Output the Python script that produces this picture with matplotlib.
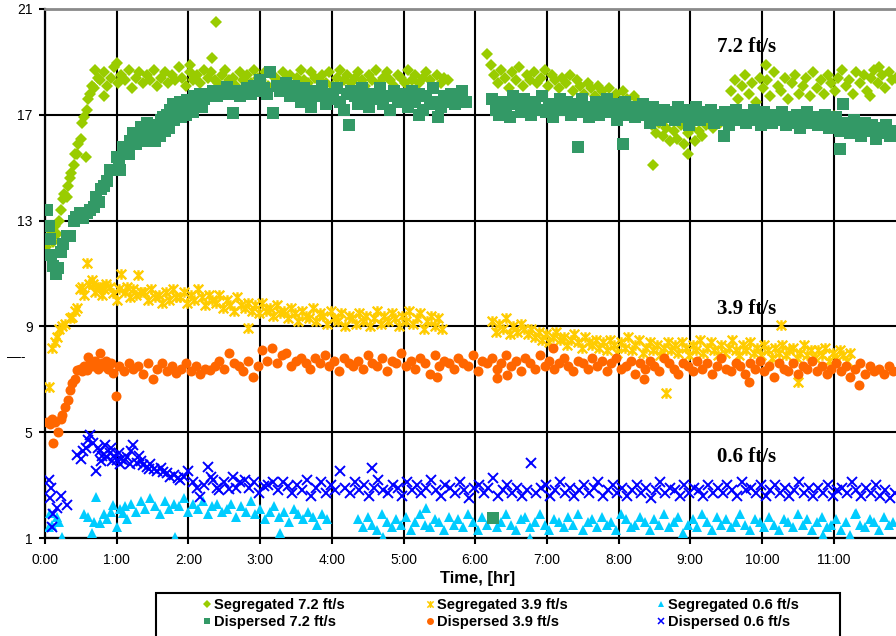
import numpy as np
import matplotlib
matplotlib.use("Agg")
import matplotlib.pyplot as plt
from matplotlib.lines import Line2D
from matplotlib.path import Path
from matplotlib.patches import Rectangle

plt.rcParams['font.family'] = ['Liberation Sans', 'DejaVu Sans']

# ---------------------------------------------------------------------------
# Measured concentration vs elapsed time (minutes) for each flow condition
# ---------------------------------------------------------------------------
seg72_t = [1, 3, 5, 7, 8, 10, 12, 13, 15, 16, 18, 19, 21, 22, 24, 25, 27, 28, 30, 31,
           33, 34, 35, 36, 38, 39, 41, 42, 44,
           46, 49, 52, 55, 58, 61, 64, 67, 70, 73,
           76, 79, 82, 85, 88, 91, 94, 97, 100, 103,
           106, 109, 112, 115, 118, 121, 124, 127, 130, 133,
           136, 139, 142, 145, 148, 151, 154, 157, 160, 163,
           166, 169, 172, 175, 178, 181, 184, 187, 190, 193,
           196, 199, 202, 205, 208, 211, 214, 217, 220, 223,
           226, 229, 232, 235, 238, 241, 244, 247, 250, 253,
           256, 259, 262, 265, 268, 271, 274, 277, 280, 283,
           286, 289, 292, 295, 298, 301, 304, 307, 310, 313,
           316, 319, 322, 325, 328, 331, 334, 337,
           49, 60, 121, 140, 143,
           370, 373,
           376, 379, 382, 385, 388, 391, 394, 397, 400, 403,
           406, 409, 412, 415, 418, 421, 424, 427, 430, 433,
           436, 439, 442, 445, 448, 451, 454, 457, 460, 463,
           466, 469, 472, 475, 478, 481, 484, 487, 490, 493,
           496, 499, 502, 505, 508, 511, 514, 517, 520, 523,
           526, 529, 532, 535, 538, 541, 544, 547, 550, 553,
           556, 559, 562, 565, 568, 571,
           574, 577, 580, 583, 586, 589, 592, 595, 598, 601,
           604, 607, 610, 613, 616, 619, 622, 625, 628, 631,
           634, 637, 640, 643, 646, 649, 652, 655, 658, 661,
           664, 667, 670, 673, 676, 679, 682, 685, 688, 691,
           694, 697, 700, 703, 706, 709, 712,
           509, 538, 603, 660, 690, 698]
seg72_v = [12.0, 12.3, 12.6, 12.2, 12.8, 12.5, 13.0, 13.4, 13.8, 14.0, 13.9, 14.3, 14.6, 14.8, 15.1,
           15.5, 15.5, 15.9, 16.1, 16.7, 16.9, 15.4, 17.2, 17.6, 17.8, 18.1, 18.0, 18.7, 18.4,
           18.3, 18.6, 18.1, 18.4, 18.8, 18.2, 18.5, 18.3, 18.7, 18.0,
           18.4, 18.6, 18.2, 18.5, 18.3, 18.7, 18.1, 18.4, 18.6, 18.2,
           18.5, 18.3, 18.8, 18.4, 18.1, 18.6, 18.3, 18.5, 18.2, 18.7,
           18.4, 18.6, 18.3, 18.2, 18.5, 18.7, 18.3, 18.4, 18.1, 18.6,
           18.3, 18.5, 18.2, 18.7, 18.4, 18.3, 18.6, 18.1, 18.5, 18.4,
           18.2, 18.6, 18.3, 18.5, 18.1, 18.4, 18.7, 18.3, 18.2, 18.6,
           18.4, 18.3, 18.5, 18.2, 18.6, 18.1, 18.4, 18.7, 18.3, 18.5,
           18.2, 18.4, 18.6, 18.3, 18.1, 18.5, 18.3, 18.7, 18.2, 18.4,
           18.6, 18.3, 18.1, 18.5, 18.4, 18.2, 18.7, 18.3, 18.5, 18.2,
           18.4, 18.6, 18.3, 18.1, 18.5, 18.2, 18.4, 18.3,
           17.7, 18.95, 18.9, 19.15, 20.5,
           19.3, 18.9,
           18.5, 18.2, 18.7, 18.4, 18.0, 18.6, 18.3, 18.8, 18.1, 18.5,
           18.3, 18.6, 18.2, 18.4, 18.7, 18.1, 18.5, 18.3, 18.0, 18.4,
           18.2, 18.5, 17.9, 18.3, 18.1, 17.8, 18.2, 18.0, 17.7, 18.1,
           17.9, 17.6, 18.0, 17.5, 17.8, 17.4, 17.9, 17.6, 17.3, 17.7,
           17.5, 17.2, 17.4, 16.9, 16.6, 16.3, 16.7, 16.2, 16.5, 16.0,
           16.4, 16.1, 16.6, 15.9, 16.3, 16.5, 16.0, 16.4, 16.2, 16.6,
           16.8, 16.5, 16.9, 16.7, 17.0, 16.8,
           17.9, 18.3, 17.6, 18.1, 18.5, 17.8, 18.2, 17.5, 18.4, 18.0,
           18.3, 17.7, 18.6, 18.1, 17.9, 18.4, 17.6, 18.2, 18.5, 17.8,
           18.1, 18.4, 17.7, 18.6, 18.0, 18.3, 17.8, 18.5, 18.2, 17.9,
           18.4, 18.7, 18.1, 18.3, 17.8, 18.6, 18.2, 18.5, 17.9, 18.4,
           18.7, 18.2, 18.5, 18.0, 18.6, 18.3, 18.4,
           15.1, 15.5, 18.9, 16.95, 17.7, 18.8]

disp72_t = [2, 3, 4, 5, 7, 9, 11, 13, 15, 18, 21, 24, 26, 29, 32, 35, 38, 41, 43, 45,
            47, 49, 52, 54, 57, 60, 62, 65, 68, 71, 74, 77, 80, 83, 85, 88, 91, 94, 97, 99,
            102, 105, 107, 110, 113, 116, 119, 122, 125, 128, 130, 133, 136, 139, 141, 144,
            147, 150, 152, 155, 157, 160, 163, 166, 169, 172, 175, 178, 180, 183, 186, 188,
            191, 194, 197, 199, 202, 205, 208,
            63, 70, 76, 82, 86, 92, 96, 100, 104, 108, 114, 118, 124, 131,
            211, 214, 217, 220, 223, 226, 229, 232, 235, 238,
            241, 244, 247, 250, 253, 256, 259, 262, 265, 268,
            271, 274, 277, 280, 283, 286, 289, 292, 295, 298,
            301, 304, 307, 310, 313, 316, 319, 322, 325, 328,
            331, 334, 337, 340, 343, 346, 349, 352,
            254, 329, 313,
            374, 377, 380, 383, 386, 389, 392, 395, 398, 401,
            404, 407, 410, 413, 416, 419, 422, 425, 428, 431,
            434, 437, 440, 443, 446, 449, 452, 455, 458, 461,
            464, 467, 470, 473, 476, 479, 482, 485, 488, 491,
            494, 497, 500, 503, 506, 509, 512, 515, 518, 521,
            524, 527, 530, 533, 536, 539, 542, 545, 548, 551,
            554, 557, 560, 563, 566, 569, 572, 575, 578, 581,
            584, 587, 590, 593, 596, 599, 602, 605, 608, 611,
            614, 617, 620, 623, 626, 629, 632, 635, 638, 641,
            644, 647, 650, 653, 656, 659, 662, 665, 668, 671,
            674, 677, 680, 683, 686, 689, 692, 695, 698, 701,
            704, 707, 710,
            375, 446, 484, 568, 665, 668]
disp72_v = [13.4, 12.8, 12.3, 11.7, 11.3, 11.0, 11.2, 11.8, 12.1, 12.4,
            12.4, 13.0, 13.15, 13.3, 13.1, 13.3, 13.4, 13.5, 13.9, 13.7,
            14.2, 14.3, 14.5, 14.9, 14.9, 15.4, 15.2, 15.8, 15.6, 16.0,
            16.3, 16.2, 16.55, 16.4, 16.7, 16.6, 16.5, 16.4, 16.8, 16.9,
            17.0, 17.2, 17.4, 17.2, 17.5, 17.3, 17.55, 17.4, 17.7, 17.5,
            17.8, 17.6, 17.8, 17.7, 17.9, 17.7, 17.9, 17.8, 18.05, 17.8,
            17.05, 17.9, 17.7, 17.9, 18.0, 17.8, 18.1, 17.9, 18.3, 18.0,
            17.8, 18.6, 17.05, 18.1, 17.9, 17.9, 18.2, 17.7, 18.1,
            14.9, 15.5, 15.9, 16.0, 16.1, 16.0, 16.2, 16.4, 16.5, 16.8, 16.9, 17.0, 17.1, 17.3,
            17.8, 17.5, 18.0, 17.6, 17.3, 17.9, 17.7, 18.1, 17.4, 17.8,
            17.6, 18.0, 17.5, 17.2, 17.8, 17.9, 17.7, 17.4, 18.0, 17.6,
            17.3, 17.8, 17.6, 18.0, 17.4, 17.7, 17.2, 17.9, 17.5, 17.8,
            17.6, 17.3, 17.9, 17.5, 17.8, 17.2, 17.7, 17.4, 18.0, 17.5,
            17.3, 17.7, 17.5, 17.8, 17.4, 17.6, 17.9, 17.5,
            16.6, 16.9, 17.0,
            17.6, 17.2, 17.0, 17.5, 17.3, 16.9, 17.7, 17.4, 17.1, 17.6,
            17.3, 17.0, 17.5, 17.2, 17.7, 17.1, 17.4, 16.9, 17.3, 17.6,
            17.2, 17.5, 17.0, 17.4, 17.1, 17.6, 17.3, 16.9, 17.2, 17.5,
            17.0, 17.3, 17.6, 17.1, 17.4, 16.8, 17.2, 17.5, 17.0, 17.3,
            16.9, 17.2, 17.4, 17.0, 16.7, 17.3, 17.1, 16.8, 17.2, 16.9,
            17.1, 16.8, 17.3, 16.9, 17.2, 16.6, 17.0, 17.3, 16.8, 17.1,
            16.9, 17.2, 16.7, 17.0, 16.8, 17.1, 16.6, 16.9, 17.2, 16.8,
            17.0, 16.7, 16.9, 17.2, 16.8, 16.6, 17.1, 16.9, 16.7, 17.0,
            16.8, 17.1, 16.6, 16.9, 16.7, 17.0, 16.5, 16.8, 17.1, 16.7,
            16.9, 16.6, 16.8, 17.0, 16.5, 16.7, 16.9, 16.4, 16.7, 16.6,
            16.3, 16.8, 16.5, 16.2, 16.7, 16.4, 16.6, 16.1, 16.5, 16.3,
            16.6, 16.2, 16.4,
            1.75, 15.8, 15.9, 16.2, 15.7, 17.4]

seg39_t = [3, 6, 8, 10, 12, 14, 17, 21, 23, 25, 27, 29, 31, 33, 35, 37, 39, 40, 42, 44,
           46, 48, 49, 51, 54, 57, 60, 62, 64, 67, 69, 71, 74, 76, 78, 80,
           83, 86, 89, 92, 95, 98, 101, 104, 107, 110,
           113, 116, 119, 122, 125, 128, 131, 134, 137, 140,
           143, 146, 149, 152, 155, 158, 161, 164, 167, 170,
           173, 176, 179, 182, 185, 188, 191, 194, 197, 200,
           203, 206, 209, 212, 215, 218, 221, 224, 227, 230,
           233, 236, 239, 242, 245, 248, 251, 254, 257, 260,
           263, 266, 269, 272, 275, 278, 281, 284, 287, 290,
           293, 296, 299, 302, 305, 308, 311, 314, 317, 320,
           323, 326, 329, 332,
           170,
           374, 377, 380, 383, 386, 389, 392, 395, 398, 401,
           404, 407, 410, 413, 416, 419, 422, 425, 428, 431,
           434, 437, 440, 443, 446, 449, 452, 455, 458, 461,
           464, 467, 470, 473, 476, 479, 482, 485, 488, 491,
           494, 497, 500, 503, 506, 509, 512, 515, 518, 521,
           524, 527, 530, 533, 536, 539, 542, 545, 548, 551,
           554, 557, 560, 563, 566, 569, 572, 575, 578, 581,
           584, 587, 590, 593, 596, 599, 602, 605, 608, 611,
           614, 617, 620, 623, 626, 629, 632, 635, 638, 641,
           644, 647, 650, 653, 656, 659, 662, 665, 668, 671,
           674,
           520, 616, 630]
seg39_v = [6.7, 8.2, 8.4, 8.6, 8.9, 9.0, 9.1, 9.3, 9.35, 9.6,
           9.7, 10.4, 10.5, 10.2, 11.4, 10.6, 10.75, 10.6, 10.3, 10.5,
           10.5, 10.2, 10.4, 10.6, 10.5, 10.25, 10.0, 10.4, 11.0, 10.3,
           10.5, 10.1, 10.4, 10.2, 10.95, 10.3,
           10.3, 10.0, 10.4, 10.1, 10.2, 9.9, 10.3, 10.0, 10.4, 10.1,
           10.1, 10.3, 9.9, 10.2, 10.0, 10.4, 10.1, 9.8, 10.2, 10.0,
           9.9, 10.2, 9.7, 10.0, 9.8, 9.6, 10.1, 9.8, 9.7, 9.9,
           9.6, 9.8, 9.5, 9.9, 9.6, 9.7, 9.4, 9.8, 9.5, 9.6,
           9.3, 9.7, 9.5, 9.2, 9.6, 9.4, 9.3, 9.7, 9.2, 9.5,
           9.4, 9.1, 9.6, 9.3, 9.2, 9.5, 9.0, 9.4, 9.3, 9.1,
           9.5, 9.2, 9.4, 9.0, 9.3, 9.6, 9.1, 9.4, 9.2, 9.5,
           9.3, 9.0, 9.4, 9.2, 9.6, 9.1, 9.3, 9.5, 8.9, 9.2,
           9.4, 9.0, 9.3, 8.9,
           8.95,
           9.2, 8.8, 9.1, 8.9, 9.3, 8.7, 9.0, 8.8, 9.1, 8.9,
           8.7, 8.9, 8.6, 8.8, 8.5, 8.7, 8.4, 8.6, 8.8, 8.5,
           8.6, 8.3, 8.5, 8.7, 8.4, 8.2, 8.6, 8.4, 8.3, 8.5,
           8.2, 8.4, 8.1, 8.5, 8.3, 8.0, 8.4, 8.2, 8.6, 8.1,
           8.3, 8.5, 8.0, 8.2, 8.4, 8.1, 8.3, 7.9, 8.2, 8.4,
           8.1, 8.3, 8.0, 8.4, 8.2, 7.9, 8.3, 8.1, 8.5, 8.0,
           8.2, 8.4, 8.1, 7.9, 8.3, 8.0, 8.2, 8.5, 8.1, 7.9,
           8.3, 8.1, 8.4, 8.0, 8.2, 7.9, 8.3, 8.1, 7.8, 8.2,
           8.0, 8.3, 7.9, 8.1, 8.2, 7.8, 8.0, 8.3, 7.9, 8.1,
           7.8, 8.1, 7.9, 8.2, 7.7, 8.0, 7.8, 8.1, 7.9, 7.7,
           8.0,
           6.5, 9.05, 6.9]

disp39_t = [2, 4, 6, 7, 8, 11, 13, 14, 17, 19, 21, 23, 25, 27, 29, 31, 33, 35, 36, 38,
            40, 42, 44, 46, 48, 49, 51, 53, 55, 57, 59,
            62, 66, 70, 74, 78, 82, 86, 90, 94, 98,
            102, 106, 110, 114, 118, 122, 126, 130, 134, 138,
            142, 146, 150, 154, 158, 162, 166, 170, 174, 178,
            182, 186, 190, 194, 198, 202, 206, 210, 214, 218,
            222, 226, 230, 234, 238, 242, 246, 250, 254, 258,
            262, 266, 270, 274, 278, 282, 286, 290, 294, 298,
            302, 306, 310, 314, 318, 322, 326, 330, 334, 338,
            342, 346, 350, 354, 358, 362, 366, 370, 374, 378,
            382, 386, 390, 394, 398, 402, 406, 410, 414, 418,
            422, 426, 430, 434, 438, 442, 446, 450, 454, 458,
            462, 466, 470, 474, 478, 482, 486, 490, 494, 498,
            502, 506, 510, 514, 518, 522, 526, 530, 534, 538,
            542, 546, 550, 554, 558, 562, 566, 570, 574, 578,
            582, 586, 590, 594, 598, 602, 606, 610, 614, 618,
            622, 626, 630, 634, 638, 642, 646, 650, 654, 658,
            662, 666, 670, 674, 678, 682, 686, 690, 694, 698,
            702, 706, 710,
            425, 328, 378, 387, 589, 681, 501]
disp39_v = [5.4, 5.3, 5.5, 4.6, 5.4, 5.0, 5.5, 5.65, 5.95, 6.2,
            6.6, 6.85, 7.0, 7.35, 7.4, 7.3, 7.5, 7.35, 7.85, 7.6,
            7.5, 7.7, 7.4, 8.0, 7.6, 7.5, 7.7, 7.4, 7.6, 7.25, 6.35,
            7.5, 7.3, 7.6, 7.4, 7.5, 7.2, 7.6, 7.0, 7.4, 7.6,
            7.3, 7.5, 7.25, 7.4, 7.6, 7.3, 7.5, 7.2, 7.4, 7.35,
            7.5, 7.7, 7.4, 8.0, 7.6, 7.5, 7.3, 7.7, 7.1, 7.5,
            8.1, 7.7, 8.2, 7.6, 7.9, 8.0, 7.5, 7.7, 7.8, 7.6,
            7.4, 7.8, 7.6, 7.9, 7.5, 7.7, 7.3, 7.8, 7.6, 7.5,
            7.7, 7.4, 7.9, 7.6, 7.5, 7.8, 7.3, 7.7, 7.6, 8.0,
            7.5, 7.7, 7.4, 7.8, 7.6, 7.2, 7.9, 7.5, 7.7, 7.6,
            7.4, 7.8, 7.6, 7.5, 7.9, 7.3, 7.7, 7.6, 7.8, 7.4,
            7.6, 7.9, 7.5, 7.7, 7.3, 7.8, 7.6, 7.4, 7.9, 7.5,
            7.7, 7.4, 7.6, 7.8, 7.5, 7.3, 7.7, 7.6, 7.4, 7.8,
            7.5, 7.7, 7.3, 7.6, 7.8, 7.4, 7.5, 7.7, 7.2, 7.6,
            7.4, 7.7, 7.5, 7.3, 7.8, 7.6, 7.4, 7.2, 7.6, 7.5,
            7.3, 7.7, 7.4, 7.6, 7.2, 7.5, 7.8, 7.4, 7.3, 7.6,
            7.5, 7.2, 7.6, 7.4, 7.7, 7.3, 7.5, 7.1, 7.6, 7.4,
            7.3, 7.6, 7.2, 7.5, 7.4, 7.7, 7.3, 7.5, 7.2, 7.4,
            7.6, 7.3, 7.5, 7.1, 7.4, 7.6, 7.2, 7.5, 7.3, 7.4,
            7.2, 7.5, 7.3,
            8.2, 7.1, 7.05, 7.15, 6.9, 6.8, 7.0]

seg06_t = [3, 4, 6, 10, 12, 14,
           33, 36, 39, 41, 43, 46, 49, 52, 55, 57, 60, 63, 65, 67, 69,
           72, 76, 80, 84, 88, 92, 96, 100, 104, 108,
           112, 116, 120, 124, 128, 132, 136, 140, 144, 148,
           152, 156, 160, 164, 168, 172, 176, 180, 184, 188,
           192, 196, 200, 204, 208, 212, 216, 220, 224, 228,
           232, 236,
           109, 197,
           262, 266, 270, 274, 278, 282, 286, 290, 294, 298,
           302, 306, 310, 314, 318, 322, 326, 330, 334, 338,
           342, 346, 350, 354, 358, 362, 366, 370, 374, 378,
           382, 386, 390, 394, 398, 402, 406, 410, 414, 418,
           422, 426, 430, 434, 438, 442, 446, 450, 454, 458,
           462, 466, 470, 474, 478, 482, 486, 490, 494, 498,
           502, 506, 510, 514, 518, 522, 526, 530, 534, 538,
           542, 546, 550, 554, 558, 562, 566, 570, 574, 578,
           582, 586, 590, 594, 598, 602, 606, 610, 614, 618,
           622, 626, 630, 634, 638, 642, 646, 650, 654, 658,
           662, 666, 670, 674, 678, 682, 686, 690, 694, 698,
           702, 706, 710,
           283, 319, 406, 651, 679]
seg06_v = [1.4, 1.95, 1.5, 1.8, 1.6, 1.05,
           1.9, 1.8, 1.2, 1.6, 2.55, 1.55, 1.9, 1.7, 2.0, 2.25, 1.4, 2.1, 1.95, 2.2, 1.7,
           2.3, 2.0, 2.4, 2.1, 2.5, 2.2, 1.9, 2.4, 2.1, 2.3,
           2.2, 2.5, 2.0, 2.3, 2.1, 2.4, 1.9, 2.2, 2.3, 2.0,
           2.1, 2.3, 1.8, 2.2, 2.0, 2.4, 1.9, 2.1, 1.7, 2.0,
           2.2, 1.8, 2.0, 1.6, 2.1, 1.9, 1.7, 2.0, 1.8, 1.5,
           1.9, 1.7,
           1.05, 1.2,
           1.7, 1.4, 1.8, 1.5, 1.3, 1.9, 1.6, 1.4, 1.7, 1.5,
           1.8, 1.3, 1.6, 1.9, 1.5, 1.4, 1.7, 1.6, 1.3, 1.8,
           1.5, 1.7, 1.4, 1.9, 1.6, 1.3, 1.8, 1.5, 1.7, 1.4,
           1.6, 1.9, 1.5, 1.3, 1.7, 1.8, 1.4, 1.6, 1.9, 1.5,
           1.3, 1.7, 1.6, 1.4, 1.8, 1.5, 1.9, 1.3, 1.6, 1.7,
           1.4, 1.8, 1.5, 1.6, 1.3, 1.9, 1.7, 1.4, 1.5, 1.8,
           1.6, 1.3, 1.7, 1.5, 1.9, 1.4, 1.6, 1.8, 1.2, 1.5,
           1.7, 1.4, 1.9, 1.6, 1.3, 1.8, 1.5, 1.7, 1.4, 1.6,
           1.9, 1.5, 1.3, 1.7, 1.6, 1.4, 1.8, 1.5, 1.3, 1.7,
           1.6, 1.4, 1.9, 1.5, 1.7, 1.3, 1.6, 1.8, 1.4, 1.5,
           1.7, 1.3, 1.6, 1.1, 1.9, 1.5, 1.4, 1.7, 1.6, 1.3,
           1.8, 1.5, 1.6,
           1.05, 2.15, 1.0, 1.1, 1.95]

disp06_t = [3, 4, 5, 6, 7, 10, 13, 18,
            27, 30, 32, 34, 36, 38, 40, 43, 44, 46,
            48, 50, 52, 54, 56, 58, 60, 62, 64, 66,
            69, 71, 74, 77, 80, 82, 85, 88, 91, 94,
            97, 99, 102, 105, 108, 111, 113, 116, 120, 124,
            127, 130, 133, 136, 139, 141, 144, 146, 150, 154,
            157, 160, 163,
            47, 55, 63, 72, 79, 87,
            167, 171, 175, 179, 183, 187, 191, 195, 199, 203,
            207, 211, 215, 219, 223, 227, 231, 235, 239, 243,
            247, 251, 255, 259, 263, 267, 271, 275, 279, 283,
            287, 291, 295, 299, 303, 307, 311, 315, 319, 323,
            327, 331, 335, 339, 343, 347, 351, 355, 359, 363,
            367, 371, 375, 379, 383, 387, 391, 395, 399, 403,
            407, 411, 415, 419, 423, 427, 431, 435, 439, 443,
            447, 451, 455, 459, 463, 467, 471, 475, 479, 483,
            487, 491, 495, 499, 503, 507, 511, 515, 519, 523,
            527, 531, 535, 539, 543, 547, 551, 555, 559, 563,
            567, 571, 575, 579, 583, 587, 591, 595, 599, 603,
            607, 611, 615, 619, 623, 627, 631, 635, 639, 643,
            647, 651, 655, 659, 663, 667, 671, 675, 679, 683,
            687, 691, 695, 699, 703, 707, 711,
            274]
disp06_v = [3.2, 2.5, 2.9, 1.4, 1.9, 2.15, 2.6, 2.25,
            4.15, 4.0, 4.3, 4.4, 4.7, 4.9, 4.6, 3.55, 4.4, 4.3,
            4.1, 4.5, 4.05, 4.2, 3.9, 4.1, 3.95, 4.2, 4.0, 3.9,
            4.05, 3.8, 4.5, 3.85, 3.9, 3.75, 3.7, 3.8, 3.6, 3.55,
            3.65, 3.5, 3.45, 3.3, 3.4, 3.25, 3.2, 3.3, 3.55, 3.1,
            2.9, 2.55, 3.0, 3.7, 3.3, 3.2, 2.9, 2.8, 3.1, 2.85,
            3.3, 2.9, 3.1,
            3.9, 4.4, 3.8, 4.3, 4.1, 3.6,
            3.2, 2.9, 3.1, 2.7, 2.95, 3.0, 3.1, 2.8, 3.1, 2.95,
            2.7, 3.0, 2.8, 3.2, 2.6, 2.9, 3.1, 2.7, 3.0, 2.8,
            3.55, 2.9, 2.7, 3.1, 2.8, 3.0, 2.6, 2.9, 3.2, 2.8,
            2.7, 3.0, 2.9, 2.6, 3.1, 2.8, 3.0, 2.7, 2.9, 3.2,
            2.8, 2.6, 3.0, 2.9, 2.7, 3.1, 2.8, 2.5, 2.9, 3.0,
            2.7, 2.9, 3.25, 2.6, 2.8, 3.0, 2.7, 2.9, 2.6, 2.8,
            3.85, 2.7, 2.9, 3.0, 2.6, 2.8, 3.1, 2.7, 2.9, 2.6,
            2.8, 3.0, 2.7, 2.9, 3.1, 2.6, 2.8, 3.0, 2.7, 2.9,
            2.6, 2.8, 3.0, 2.7, 2.9, 2.5, 2.8, 3.1, 2.7, 2.9,
            2.8, 2.6, 3.0, 2.7, 2.9, 2.8, 2.6, 3.0, 2.7, 2.9,
            2.7, 3.0, 2.8, 2.6, 3.1, 2.8, 2.9, 2.7, 3.0, 2.6,
            2.8, 3.0, 2.7, 2.9, 2.6, 2.8, 3.1, 2.7, 2.9, 2.6,
            2.9, 2.7, 3.0, 2.6, 2.8, 2.9, 2.7, 3.1, 2.8, 2.6,
            2.9, 2.7, 3.0, 2.6, 2.8, 2.5, 2.7,
            3.65]

hour_ticks = list(range(12))
hour_labels = ['0:00', '1:00', '2:00', '3:00', '4:00', '5:00',
               '6:00', '7:00', '8:00', '9:00', '10:00', '11:00']
y_ticks = [1, 5, 9, 13, 17, 21]

series_labels = ['Segregated 7.2 ft/s', 'Segregated 3.9 ft/s', 'Segregated 0.6 ft/s',
                 'Dispersed 7.2 ft/s', 'Dispersed 3.9 ft/s', 'Dispersed 0.6 ft/s']

# ---------------------------------------------------------------------------
W, H = 896, 636
fig = plt.figure(figsize=(W / 100, H / 100), dpi=100)
px_per_hour = 71.7
ax = fig.add_axes([45 / W, 98 / H, 12 * px_per_hour / W, 529 / H])

# asterisk-like star marker (x with a vertical stroke)
star = Path([(-1, -1), (1, 1), (-1, 1), (1, -1), (0, -1.1), (0, 1.1)],
            [Path.MOVETO, Path.LINETO] * 3)

styles = [
    dict(marker='D', ms=6.0, color='#99CC00', mew=0),
    dict(marker=star, ms=7.6, color='#FFCC00', mew=1.7),
    dict(marker='^', ms=7.2, color='#00CCFF', mew=0),
    dict(marker='s', ms=8.0, color='#339966', mew=0),
    dict(marker='o', ms=7.2, color='#FF6600', mew=0),
    dict(marker='x', ms=6.6, color='#0000FF', mew=1.4),
]
data = [(seg72_t, seg72_v), (seg39_t, seg39_v), (seg06_t, seg06_v),
        (disp72_t, disp72_v), (disp39_t, disp39_v), (disp06_t, disp06_v)]

for (t, v), st in zip(data, styles):
    ax.plot(np.asarray(t) / 60.0, v, ls='none', zorder=3, **st)

ax.set_xlim(0, 12)
ax.set_ylim(1, 21)
ax.set_xticks(hour_ticks)
ax.set_xticklabels(hour_labels)
ax.set_yticks(y_ticks)
ax.grid(True, color='black', lw=1.5)
ax.set_axisbelow(True)

for side in ('left', 'bottom'):
    ax.spines[side].set_color('black')
    ax.spines[side].set_linewidth(1.6)
ax.spines['top'].set_color('#8a8a8a')
ax.spines['top'].set_linewidth(2.0)
ax.spines['right'].set_visible(False)

ax.tick_params(axis='both', direction='out', length=4, width=1.5, labelsize=10,
               color='black')
ax.tick_params(axis='y', pad=5)
ax.tick_params(axis='x', pad=7)

ax.set_xlabel('Time, [hr]', fontsize=12, fontweight='bold')
ax.xaxis.set_label_coords((478 - 45) / (12 * px_per_hour), -40 / 529)
ax.xaxis.label.set_va('center')

serif = ['Liberation Serif', 'DejaVu Serif']
for txt, yv in (('7.2 ft/s', 19.55), ('3.9 ft/s', 9.66), ('0.6 ft/s', 4.06)):
    ax.text(9.78, yv, txt, family=serif, fontsize=15, fontweight='bold',
            ha='center', va='center', zorder=5)

fig.text(7 / W, 1 - 357 / H, '\u2014-', fontsize=10, ha='left', va='center')

# legend frame (runs off the bottom edge)
fig.add_artist(Rectangle((156 / W, -0.05), (840 - 156) / W, 0.05 + (636 - 593) / H,
                         transform=fig.transFigure, facecolor='white',
                         edgecolor='black', lw=1.5, clip_on=False, zorder=1))

legend_ms = [4.0, 5.0, 4.6, 5.0, 5.0, 4.6]
handles = []
for st, m in zip(styles, legend_ms):
    s = dict(st)
    s['ms'] = m
    s['mew'] = 1.1 if st['mew'] > 0 else 0
    handles.append(Line2D([], [], ls='none', **s))

fs = 10.5
col_marker_x = [207, 430, 661]
for c in range(3):
    hl = 0.5
    x0 = col_marker_x[c] - hl * fs * 100 / 72 / 2
    leg = fig.legend([handles[c], handles[c + 3]],
                     [series_labels[c], series_labels[c + 3]],
                     loc='upper left', bbox_to_anchor=(x0 / W, 1 - 598 / H),
                     bbox_transform=fig.transFigure, frameon=False,
                     borderpad=0, borderaxespad=0, handlelength=hl,
                     handletextpad=0.2, labelspacing=0.2,
                     prop=dict(size=fs, weight='bold'))
    leg.set_zorder(2)

fig.savefig('out.png', dpi=100)
